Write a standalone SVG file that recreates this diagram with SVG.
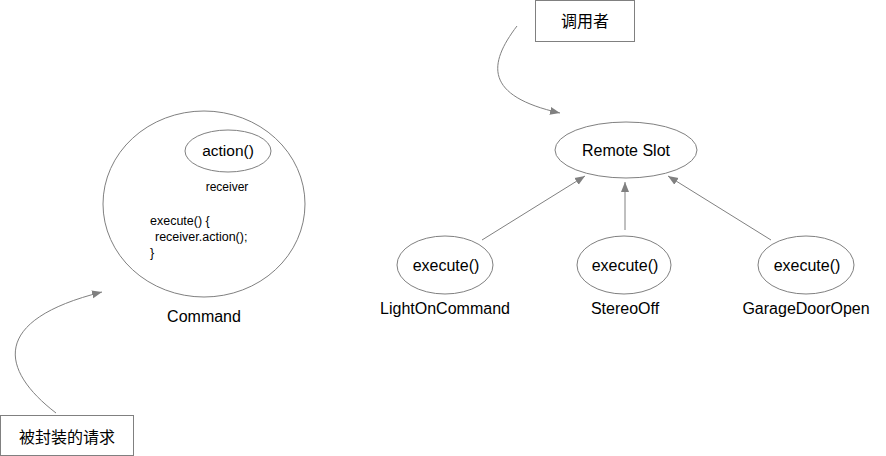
<svg xmlns="http://www.w3.org/2000/svg" width="886" height="456" viewBox="0 0 886 456">
<style>
.s{fill:#fff;stroke:#808080;stroke-width:1}
.t{font-family:"Liberation Sans",Arial,"Noto Sans CJK SC",sans-serif;fill:#000;text-anchor:middle}
.c{fill:none;stroke:#808080;stroke-width:1}
</style>
<defs>
<marker id="a" viewBox="0 0 10 10" refX="10" refY="5" markerWidth="10" markerHeight="10" markerUnits="userSpaceOnUse" orient="auto">
<path d="M0,1 L10,5 L0,9 Z" fill="#808080"/>
</marker>
</defs>
<rect width="886" height="456" fill="#fff"/>
<g id="command">
<ellipse class="s" cx="204" cy="204" rx="101" ry="93"/>
<text class="t" x="204" y="322" font-size="16">Command</text>
<text class="t" x="227" y="191" font-size="12">receiver</text>
<text class="t" x="150" y="225" font-size="12.5" style="text-anchor:start">execute() {</text>
<text class="t" x="155" y="241" font-size="12.5" style="text-anchor:start">receiver.action();</text>
<text class="t" x="150" y="257" font-size="12.5" style="text-anchor:start">}</text>
</g>
<g id="action">
<ellipse class="s" cx="228" cy="151" rx="43" ry="21"/>
<text class="t" x="228" y="156" font-size="15.5">action()</text>
</g>
<g id="remote">
<ellipse class="s" cx="626" cy="150" rx="71" ry="28"/>
<text class="t" x="626" y="156" font-size="16">Remote Slot</text>
</g>
<g id="light">
<ellipse class="s" cx="445" cy="265" rx="48" ry="29"/>
<text class="t" x="446" y="271" font-size="16">execute()</text>
<text class="t" x="445" y="314" font-size="16">LightOnCommand</text>
</g>
<g id="stereo">
<ellipse class="s" cx="624" cy="265" rx="47" ry="29"/>
<text class="t" x="625" y="271" font-size="16">execute()</text>
<text class="t" x="625" y="314" font-size="16">StereoOff</text>
</g>
<g id="garage">
<ellipse class="s" cx="806" cy="265" rx="48" ry="29"/>
<text class="t" x="807" y="271" font-size="16">execute()</text>
<text class="t" x="806" y="314" font-size="16">GarageDoorOpen</text>
</g>
<g id="invoker">
<rect class="s" x="535.5" y="0.5" width="99" height="41"/>
<text class="t" x="585" y="27" font-size="16">调用者</text>
</g>
<g id="request">
<rect class="s" x="0.5" y="415.5" width="133" height="40"/>
<text class="t" x="67" y="443" font-size="16">被封装的请求</text>
</g>
<g id="connectors">
<line class="c" x1="482" y1="240" x2="585" y2="176" marker-end="url(#a)"/>
<line class="c" x1="625" y1="230" x2="625" y2="182" marker-end="url(#a)"/>
<line class="c" x1="771" y1="240" x2="668" y2="176" marker-end="url(#a)"/>
<path class="c" d="M517,26 C488,64 484,96 560,113" marker-end="url(#a)"/>
<path class="c" d="M56,413 C0,370 -10,320 102,292" marker-end="url(#a)"/>
</g>
</svg>
